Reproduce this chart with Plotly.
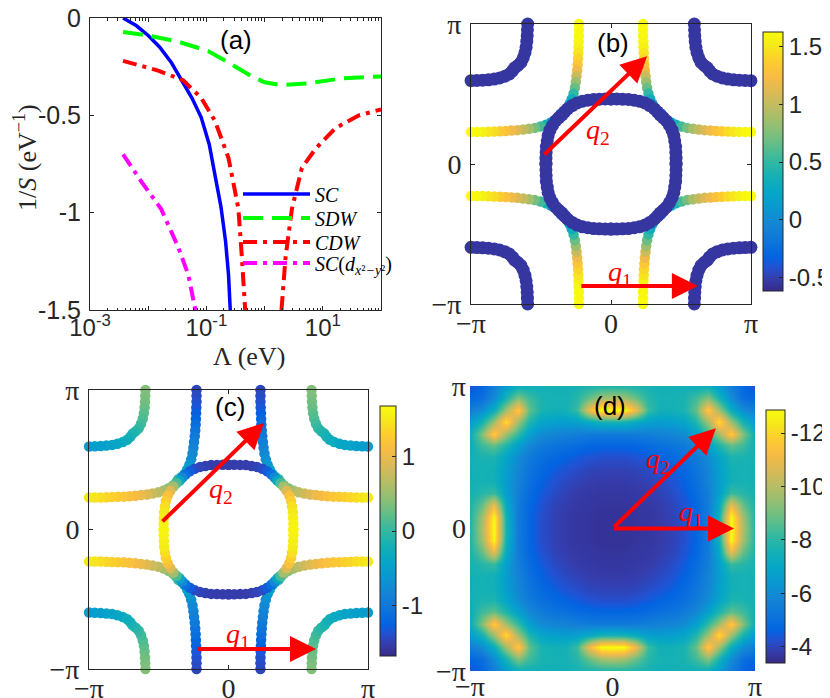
import numpy as np
import plotly.graph_objects as go

PI = np.pi

# ---------------- panel (a): 1/S versus Lambda ----------------
sc_lam = [0.0037, 0.0063, 0.010, 0.0158, 0.0251, 0.0372, 0.0562, 0.0813, 0.112, 0.141, 0.178, 0.214, 0.240, 0.257]
sc_val = [0, -0.04, -0.09, -0.15, -0.23, -0.32, -0.41, -0.51, -0.65, -0.81, -0.97, -1.15, -1.32, -1.5]
sdw_lam = [0.0037, 0.010, 0.0316, 0.107, 0.214, 0.398, 0.603, 1.0, 1.95, 5.75, 21.4, 100]
sdw_val = [-0.072, -0.09, -0.12, -0.17, -0.22, -0.27, -0.30, -0.33, -0.345, -0.335, -0.31, -0.30]
cdw_lam_lo = [0.0037, 0.0148, 0.0398, 0.0813, 0.141, 0.240, 0.292, 0.355, 0.407, 0.464]
cdw_val_lo = [-0.22, -0.27, -0.32, -0.41, -0.53, -0.72, -0.85, -0.98, -1.23, -1.5]
cdw_lam_hi = [1.95, 2.29, 2.95, 4.37, 7.59, 16.6, 41.7, 100]
cdw_val_hi = [-1.5, -1.23, -0.98, -0.77, -0.67, -0.565, -0.5, -0.47]
dsc_lam = [0.0037, 0.0076, 0.0166, 0.0331, 0.049, 0.0646]
dsc_val = [-0.70, -0.84, -0.98, -1.18, -1.32, -1.5]

# ---------------- panels (b),(c): Fermi surface, first quadrant (mirrored) ----------------
# outer sheet
out_kx = [0.72, 0.72, 0.72, 0.725, 0.73, 0.735, 0.74, 0.75, 0.76, 0.775, 0.79, 0.81, 0.84, 0.88, 0.93, 0.99, 1.06, 1.13,
          1.18, 1.25, 1.35, 1.46, 1.58, 1.71, 1.84, 1.97, 2.10, 2.23, 2.36, 2.49, 2.62, 2.75, 2.88, 3.01, 3.14]
out_ky = [3.14, 3.01, 2.88, 2.75, 2.62, 2.49, 2.36, 2.23, 2.10, 1.97, 1.84, 1.71, 1.58, 1.46, 1.35, 1.25, 1.18, 1.13,
          1.06, 0.99, 0.93, 0.88, 0.84, 0.81, 0.79, 0.775, 0.76, 0.75, 0.74, 0.735, 0.73, 0.725, 0.72, 0.72, 0.72]
out_b = [1.62, 1.62, 1.61, 1.6, 1.57, 1.5, 1.42, 1.33, 1.2, 1.03, 0.85, 0.68, 0.5, 0.33, 0.18, 0.03, -0.1, -0.2,
         -0.1, 0.05, 0.2, 0.38, 0.55, 0.72, 0.88, 1.0, 1.1, 1.2, 1.28, 1.36, 1.44, 1.5, 1.56, 1.6, 1.62]
out_c = [-1.45, -1.42, -1.38, -1.33, -1.27, -1.2, -1.12, -1.05, -0.98, -0.92, -0.86, -0.8, -0.72, -0.62, -0.5, -0.35, -0.2, -0.05,
         0.1, 0.25, 0.4, 0.55, 0.68, 0.8, 0.9, 1.0, 1.08, 1.15, 1.2, 1.25, 1.3, 1.35, 1.4, 1.45, 1.5]
# central pocket
cen_kx = [0.00, 0.13, 0.26, 0.39, 0.52, 0.64, 0.76, 0.87, 0.97, 1.04, 1.10, 1.17, 1.24, 1.31, 1.37, 1.41, 1.43, 1.45, 1.455, 1.46, 1.46]
cen_ky = [1.46, 1.46, 1.455, 1.45, 1.43, 1.41, 1.37, 1.31, 1.24, 1.17, 1.10, 1.04, 0.97, 0.87, 0.76, 0.64, 0.52, 0.39, 0.26, 0.13, 0.00]
cen_b = [-0.55] * 21
cen_c = [-1.52, -1.52, -1.52, -1.51, -1.5, -1.47, -1.42, -1.3, -1.1, -0.8, -0.4, 0.1, 0.55, 0.9, 1.15, 1.3, 1.42, 1.5, 1.55, 1.58, 1.6]
# corner pocket
cor_kx = [1.87, 1.875, 1.88, 1.89, 1.905, 1.93, 1.97, 2.02, 2.09, 2.16, 2.21, 2.28, 2.38, 2.50, 2.62, 2.75, 2.88, 3.01, 3.14]
cor_ky = [3.14, 3.01, 2.88, 2.75, 2.62, 2.50, 2.38, 2.28, 2.21, 2.16, 2.09, 2.02, 1.97, 1.93, 1.905, 1.89, 1.88, 1.875, 1.87]
cor_b = [-0.55] * 19
cor_c = [0.38, 0.35, 0.31, 0.26, 0.2, 0.14, 0.07, 0.0, -0.07, -0.13, -0.19, -0.25, -0.31, -0.37, -0.42, -0.46, -0.5, -0.52, -0.55]

# ---------------- panel (d): quadrant of the k-space map (kx,ky in [0,pi], step pi/12) ----------------
d_quad = [
    [-3.6, -3.6, -3.65, -3.7, -3.8, -3.95, -4.2, -4.7, -5.4, -7.6, -12.9, -9.8, -7.8],
    [-3.6, -3.6, -3.65, -3.7, -3.8, -3.95, -4.2, -4.7, -5.4, -7.5, -12.8, -9.6, -7.8],
    [-3.65, -3.65, -3.7, -3.75, -3.85, -4.0, -4.3, -4.75, -5.45, -7.1, -11.0, -8.8, -7.7],
    [-3.7, -3.7, -3.75, -3.8, -3.95, -4.15, -4.45, -4.9, -5.55, -6.7, -8.2, -7.9, -7.6],
    [-3.8, -3.8, -3.85, -3.95, -4.1, -4.3, -4.6, -5.05, -5.7, -6.6, -7.5, -7.6, -7.5],
    [-3.95, -3.95, -4.0, -4.15, -4.3, -4.5, -4.8, -5.2, -5.8, -6.7, -7.5, -7.6, -7.5],
    [-4.2, -4.2, -4.3, -4.45, -4.6, -4.8, -5.0, -5.4, -6.0, -6.9, -7.7, -7.7, -7.5],
    [-4.7, -4.7, -4.75, -4.9, -5.05, -5.2, -5.4, -5.9, -6.7, -7.8, -8.8, -8.3, -7.4],
    [-5.4, -5.4, -5.45, -5.55, -5.7, -5.8, -6.0, -6.7, -8.1, -9.6, -11.8, -9.2, -7.3],
    [-7.6, -7.5, -7.1, -6.7, -6.6, -6.7, -6.9, -7.8, -9.6, -12.2, -9.6, -7.6, -6.6],
    [-12.9, -12.8, -11.0, -8.2, -7.5, -7.5, -7.7, -8.8, -11.8, -9.6, -7.3, -6.0, -5.5],
    [-9.8, -9.6, -8.8, -7.9, -7.6, -7.6, -7.7, -8.3, -9.2, -7.6, -6.0, -5.0, -4.7],
    [-7.8, -7.8, -7.7, -7.6, -7.5, -7.5, -7.5, -7.4, -7.3, -6.6, -5.5, -4.7, -4.3],
]

# nesting vectors (tail kx, tail ky, head kx, head ky) and label positions
q_b = {'q1': (-0.70, -2.74, 1.95, -2.74), 'q2': (-1.53, 0.18, 0.81, 2.42)}
q_c = {'q1': (-0.73, -2.69, 1.97, -2.69), 'q2': (-1.52, 0.15, 0.80, 2.40)}
q_d = {'q1': (0.0, 0.0, 2.68, 0.0), 'q2': (0.0, 0.0, 2.28, 2.21)}
qlab_b = {'q1': (0.2, -2.45), 'q2': (-0.29, 0.74)}
qlab_c = {'q1': (0.21, -2.38), 'q2': (-0.17, 0.87)}
qlab_d = {'q1': (1.73, 0.34), 'q2': (1.0, 1.49)}

# parula colour map
parula = [
    [0.0, 'rgb(53,42,135)'], [0.0476, 'rgb(53,61,173)'], [0.0952, 'rgb(32,83,212)'],
    [0.127, 'rgb(3,99,225)'], [0.19, 'rgb(13,117,220)'], [0.254, 'rgb(20,133,212)'],
    [0.317, 'rgb(9,152,209)'], [0.381, 'rgb(6,167,198)'], [0.444, 'rgb(21,177,180)'],
    [0.508, 'rgb(56,185,158)'], [0.571, 'rgb(101,190,134)'], [0.635, 'rgb(146,191,115)'],
    [0.698, 'rgb(183,189,100)'], [0.762, 'rgb(217,186,86)'], [0.825, 'rgb(248,187,68)'],
    [0.889, 'rgb(252,206,46)'], [0.952, 'rgb(245,235,24)'], [1.0, 'rgb(249,251,14)'],
]

W, H = 830, 698


def px(x):
    return x / W


def py(y):
    return 1 - y / H


def mirror4(kx, ky, v):
    kx = np.asarray(kx, float)
    ky = np.asarray(ky, float)
    v = np.asarray(v, float)
    X = np.concatenate([kx, -kx, -kx, kx])
    Y = np.concatenate([ky, ky, -ky, -ky])
    return X, Y, np.tile(v, 4)


fig = go.Figure()

# ---- (a)
fig.add_trace(go.Scatter(x=sc_lam, y=sc_val, mode='lines', name='<i>SC</i>', legend='legend',
                         line=dict(color='#0000ff', width=3.5), xaxis='x', yaxis='y'))
fig.add_trace(go.Scatter(x=sdw_lam, y=sdw_val, mode='lines', name='<i>SDW</i>', legend='legend2',
                         line=dict(color='#00ff00', width=4, dash='20px,9px'), xaxis='x', yaxis='y'))
fig.add_trace(go.Scatter(x=cdw_lam_lo + [None] + cdw_lam_hi, y=cdw_val_lo + [None] + cdw_val_hi,
                         mode='lines', name='<i>CDW</i>', connectgaps=False, legend='legend3',
                         line=dict(color='#ff0000', width=4, dash='14px,6px,4px,6px'), xaxis='x', yaxis='y'))
fig.add_trace(go.Scatter(x=dsc_lam, y=dsc_val, mode='lines', legend='legend4',
                         name='<i>SC</i>(<i>d</i><sub><i>x</i>²<i>−y</i>²</sub>)',
                         line=dict(color='#ff00ff', width=4, dash='14px,6px,4px,6px'), xaxis='x', yaxis='y'))


# ---- (b) and (c)
def add_fs(xa, ya, cax, kx, ky, v, size):
    X, Y, V = mirror4(kx, ky, v)
    fig.add_trace(go.Scatter(x=X, y=Y, mode='markers', showlegend=False, cliponaxis=False,
                             marker=dict(color=V, coloraxis=cax, size=size, line=dict(width=0)),
                             xaxis=xa, yaxis=ya, hoverinfo='skip'))


add_fs('x2', 'y2', 'coloraxis', out_kx, out_ky, out_b, 10.5)
add_fs('x2', 'y2', 'coloraxis', cor_kx, cor_ky, cor_b, 13)
add_fs('x2', 'y2', 'coloraxis', cen_kx, cen_ky, cen_b, 13)
add_fs('x3', 'y3', 'coloraxis2', out_kx, out_ky, out_c, 10.5)
add_fs('x3', 'y3', 'coloraxis2', cor_kx, cor_ky, cor_c, 10.5)
add_fs('x3', 'y3', 'coloraxis2', cen_kx, cen_ky, cen_c, 10.5)

# ---- (d)
Q = np.asarray(d_quad, float)
idx = np.abs(np.arange(-12, 13))
Zfull = Q[np.ix_(idx, idx)]
k_grid = np.linspace(-PI, PI, 25)
fig.add_trace(go.Heatmap(x=k_grid, y=k_grid, z=-Zfull, coloraxis='coloraxis3', zsmooth='best',
                         xaxis='x4', yaxis='y4', hoverinfo='skip'))

# ---- axes
ax_line = dict(showgrid=False, zeroline=False, showline=True, linecolor='#262626', linewidth=1,
               mirror='ticks', ticks='inside', ticklen=4, tickcolor='#262626', ticklabeloverflow='allow')
sans = dict(family='Liberation Sans, Arial', size=25, color='#262626')
sans_cb = dict(family='Liberation Sans, Arial', size=24, color='#262626')
sans_x = dict(family='Liberation Sans, Arial', size=24, color='#262626')
serif = dict(family='Liberation Serif, Times New Roman', size=28, color='#262626')
pi_vals = [-PI, 0, PI]
pi_text = ['−π', '0', 'π']

minor_vals = [m * 10.0 ** e for e in range(-3, 2) for m in range(2, 10)]


def cbar(x, yc, ln, th, tv, tt):
    return dict(x=px(x), xanchor='left', xref='paper', y=py(yc), yanchor='middle', yref='paper',
                len=ln / H, lenmode='fraction', thickness=th, xpad=0, ypad=0, outlinewidth=1,
                outlinecolor='#262626', tickmode='array', tickvals=tv, ticktext=tt, ticks='inside',
                ticklen=4, tickcolor='#262626', tickfont=sans_cb)


leg_font = dict(family='Liberation Serif, Times New Roman', size=20, color='black')


def leg(yc):
    return dict(x=px(230), y=py(yc), xanchor='left', yanchor='middle', bgcolor='rgba(0,0,0,0)',
                borderwidth=0, itemwidth=67, font=leg_font)


layout = dict(
    width=W, height=H, margin=dict(l=0, r=0, t=0, b=0, autoexpand=False),
    paper_bgcolor='white', plot_bgcolor='white',
    xaxis=dict(domain=[px(82), px(373)], anchor='y', type='log', range=[-3, 2],
               tickmode='array', tickvals=[1e-3, 1e-2, 1e-1, 1, 10, 100],
               ticktext=['10<sup>-3</sup>', '', '10<sup>-1</sup>', '', '10<sup>1</sup>', ''],
               tickfont=sans_x, ticklabelstandoff=-4,
               minor=dict(tickmode='array', tickvals=minor_vals, ticks='inside', ticklen=2.5,
                          tickcolor='#262626'),
               **ax_line),
    yaxis=dict(domain=[py(302), py(10)], anchor='x', range=[-1.5, 0],
               tickmode='array', tickvals=[0, -0.5, -1, -1.5], ticktext=['0', '-0.5', '-1', '-1.5'],
               tickfont=sans, ticklabelstandoff=3, **ax_line),
    xaxis2=dict(domain=[px(463), px(743)], anchor='y2', range=[-PI, PI], tickmode='array',
                tickvals=pi_vals, ticktext=pi_text, tickfont=serif, ticklabelstandoff=-6, **ax_line),
    yaxis2=dict(domain=[py(296), py(16)], anchor='x2', range=[-PI, PI], tickmode='array',
                tickvals=pi_vals, ticktext=pi_text, tickfont=serif, ticklabelstandoff=3, **ax_line),
    xaxis3=dict(domain=[px(81), px(360)], anchor='y3', range=[-PI, PI], tickmode='array',
                tickvals=pi_vals, ticktext=pi_text, tickfont=serif, ticklabelstandoff=-6, **ax_line),
    yaxis3=dict(domain=[py(661), py(382)], anchor='x3', range=[-PI, PI], tickmode='array',
                tickvals=pi_vals, ticktext=pi_text, tickfont=serif, ticklabelstandoff=3, **ax_line),
    xaxis4=dict(domain=[px(462), px(747)], anchor='y4', range=[-PI, PI], tickmode='array',
                tickvals=pi_vals, ticktext=pi_text, tickfont=serif, ticklabelstandoff=-4,
                showgrid=False, zeroline=False, showline=False, ticks='', ticklabeloverflow='allow'),
    yaxis4=dict(domain=[py(663), py(378)], anchor='x4', range=[-PI, PI], tickmode='array',
                tickvals=pi_vals, ticktext=pi_text, tickfont=serif, ticklabelstandoff=3,
                showgrid=False, zeroline=False, showline=False, ticks='', ticklabeloverflow='allow'),
    coloraxis=dict(colorscale=parula, cmin=-0.62, cmax=1.63,
                   colorbar=cbar(755, 153.5, 259, 20, [-0.5, 0, 0.5, 1, 1.5], ['-0.5', '0', '0.5', '1', '1.5'])),
    coloraxis2=dict(colorscale=parula, cmin=-1.67, cmax=1.67,
                    colorbar=cbar(372, 523, 250, 16, [-1, 0, 1], ['-1', '0', '1'])),
    coloraxis3=dict(colorscale=parula, cmin=3.4, cmax=12.86,
                    colorbar=cbar(758, 528.5, 253, 19, [4, 6, 8, 10, 12], ['-4', '-6', '-8', '-10', '-12'])),
    legend=leg(186), legend2=leg(210), legend3=leg(234), legend4=leg(255),
    showlegend=True,
)
fig.update_layout(**layout)

ann = []
# panel letters
for t, x, y in [('(a)', 228, 32), ('(b)', 605, 35), ('(c)', 222, 399), ('(d)', 602, 398)]:
    ann.append(dict(text=t, x=px(x), y=py(y), xref='paper', yref='paper', showarrow=False,
                    xanchor='center', yanchor='middle',
                    font=dict(family='Liberation Sans, Arial', size=26, color='black')))
# axis titles of (a)
ann.append(dict(text='1/<i>S</i> (eV<sup>−1</sup>)', x=px(17), y=py(150), xref='paper', yref='paper',
                showarrow=False, textangle=-90, xanchor='center', yanchor='middle',
                font=dict(family='Liberation Serif, Times New Roman', size=26, color='#262626')))
ann.append(dict(text='Λ (eV)', x=px(241), y=py(348), xref='paper', yref='paper', showarrow=False,
                xanchor='center', yanchor='middle',
                font=dict(family='Liberation Serif, Times New Roman', size=26, color='#262626')))

# nesting vectors
for (qs, labs, xa, ya) in [(q_b, qlab_b, 'x2', 'y2'), (q_c, qlab_c, 'x3', 'y3'), (q_d, qlab_d, 'x4', 'y4')]:
    for name, (tx, ty, hx, hy) in qs.items():
        ann.append(dict(x=hx, y=hy, ax=tx, ay=ty, xref=xa, yref=ya, axref=xa, ayref=ya, text='',
                        showarrow=True, arrowhead=2, arrowsize=1.3, arrowwidth=4, arrowcolor='#ff0000',
                        standoff=0, startstandoff=0))
        lx, ly = labs[name]
        ann.append(dict(x=lx, y=ly, xref=xa, yref=ya, showarrow=False,
                        text='<i>q</i><sub>%s</sub>' % name[1],
                        font=dict(family='Liberation Serif, Times New Roman', size=28, color='#ff0000')))
fig.update_layout(annotations=ann)

fig.write_html('out.html')
